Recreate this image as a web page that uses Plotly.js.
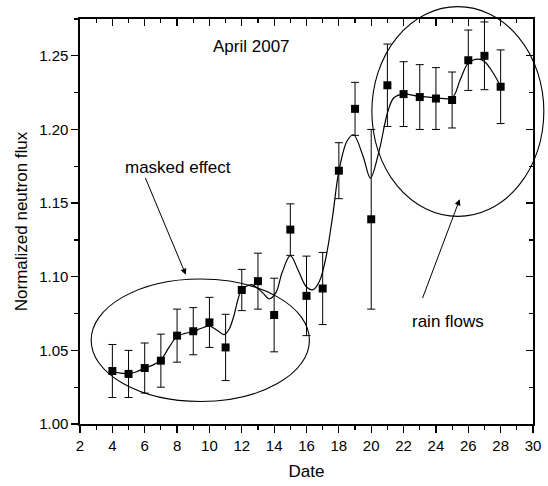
<!DOCTYPE html>
<html>
<head>
<meta charset="utf-8">
<script src="https://cdn.plot.ly/plotly-3.0.1.min.js"></script>
<style>html,body{margin:0;padding:0;background:#fff;}#chart{width:548px;height:486px;}</style>
</head>
<body>
<div id="chart"></div>
<script>
// Measured data (April 2007)
var dates = [4,5,6,7,8,9,10,11,12,13,14,15,16,17,18,19,20,21,22,23,24,25,26,27,28];
var flux = [1.036,1.034,1.038,1.043,1.060,1.063,1.069,1.052,1.091,1.097,1.074,1.132,1.087,1.092,1.172,1.214,1.139,1.230,1.224,1.222,1.221,1.220,1.247,1.250,1.229];
var fluxErr = [0.018,0.016,0.017,0.018,0.018,0.016,0.017,0.0225,0.014,0.019,0.025,0.0175,0.027,0.0245,0.019,0.018,0.061,0.028,0.022,0.022,0.021,0.019,0.0205,0.023,0.025];

// Smooth curve
var curveX = [4,4.5,5,5.5,6,6.5,7,7.5,8,8.5,9,9.5,10,10.5,10.9,11.2,11.5,11.8,12,12.6,13,13.3,13.7,14.1,14.5,15,15.5,16,16.4,16.8,17.2,17.6,18,18.5,18.9,19.5,19.95,20.5,21,21.4,22,23,24,25,25.5,26,26.6,27,27.5,28];
var curveY = [1.036,1.0345,1.0343,1.0355,1.038,1.040,1.0435,1.052,1.0595,1.0615,1.0628,1.065,1.0665,1.0635,1.0607,1.064,1.073,1.086,1.0912,1.0946,1.092,1.089,1.085,1.089,1.103,1.1143,1.104,1.093,1.0912,1.097,1.113,1.140,1.1715,1.192,1.1964,1.1817,1.167,1.186,1.211,1.2215,1.224,1.2224,1.2215,1.2215,1.2337,1.245,1.2478,1.2462,1.239,1.2292];

var xRange = [2,30];
var yRange = [1.00,1.275];
var xTicks = [2,4,6,8,10,12,14,16,18,20,22,24,26,28,30];
var yTicks = [1.00,1.05,1.10,1.15,1.20,1.25];

var FONT = "Liberation Sans, Arial, sans-serif";

var traces = [
  {
    x: curveX, y: curveY, type: 'scatter', mode: 'lines',
    line: {color: '#000', width: 1.2, shape: 'spline', smoothing: 1.0},
    hoverinfo: 'skip', showlegend: false
  },
  {
    x: dates, y: flux, type: 'scatter', mode: 'markers',
    marker: {symbol: 'square', size: 8, color: '#000', line: {width: 0}},
    error_y: {type: 'data', array: fluxErr, visible: true, color: '#000', thickness: 1, width: 4},
    showlegend: false
  },
  {
    x: [null], y: [null], xaxis: 'x2', yaxis: 'y2', type: 'scatter', mode: 'markers',
    hoverinfo: 'skip', showlegend: false
  }
];

var axisCommon = {
  showgrid: false, zeroline: false, showline: true, linecolor: '#000', linewidth: 1.6,
  tickcolor: '#000', tickwidth: 1.2, ticklen: 7
};

// convert data coordinates to paper (for shapes that leave the plot area)
function px(d){ return (d - xRange[0]) / (xRange[1] - xRange[0]); }
function py(v){ return (v - yRange[0]) / (yRange[1] - yRange[0]); }

var layout = {
  width: 548, height: 486,
  margin: {l: 80, r: 15, t: 19, b: 62, pad: 0},
  paper_bgcolor: '#fff', plot_bgcolor: '#fff',
  font: {family: FONT, color: '#000', size: 15},
  xaxis: Object.assign({}, axisCommon, {
    range: xRange, tickvals: xTicks, ticktext: xTicks.map(String), ticks: 'outside',
    minor: {dtick: 1, tick0: 2, ticks: 'outside', ticklen: 4, tickcolor: '#000', tickwidth: 1.2},
    tickfont: {family: FONT, size: 15, color: '#000'},
    title: {text: 'Date', font: {family: FONT, size: 17, color: '#000'}, standoff: 12}
  }),
  yaxis: Object.assign({}, axisCommon, {
    range: yRange, tickvals: yTicks, ticktext: yTicks.map(function(v){return v.toFixed(2);}), ticks: 'outside',
    minor: {dtick: 0.025, tick0: 1.0, ticks: 'outside', ticklen: 4, tickcolor: '#000', tickwidth: 1.2},
    tickfont: {family: FONT, size: 15, color: '#000'},
    title: {text: 'Normalized neutron flux', font: {family: FONT, size: 17, color: '#000'}, standoff: 7}
  }),
  xaxis2: Object.assign({}, axisCommon, {
    overlaying: 'x', side: 'top', anchor: 'y2', range: xRange, tickvals: xTicks, ticks: 'inside',
    showticklabels: false,
    minor: {dtick: 1, tick0: 2, ticks: 'inside', ticklen: 4, tickcolor: '#000', tickwidth: 1.2}
  }),
  yaxis2: Object.assign({}, axisCommon, {
    overlaying: 'y', side: 'right', anchor: 'x2', range: yRange, tickvals: yTicks, ticks: 'inside',
    showticklabels: false,
    minor: {dtick: 0.025, tick0: 1.0, ticks: 'inside', ticklen: 4, tickcolor: '#000', tickwidth: 1.2}
  }),
  shapes: [
    {type: 'circle', xref: 'paper', yref: 'paper',
     x0: px(2.69), x1: px(16.18), y0: py(1.0153), y1: py(1.0985),
     line: {color: '#000', width: 1.1}},
    {type: 'circle', xref: 'paper', yref: 'paper',
     x0: px(20.04), x1: px(30.67), y0: py(1.141), y1: py(1.2834),
     line: {color: '#000', width: 1.1}}
  ],
  annotations: [
    {x: 12.63, y: 1.2563, xref: 'x', yref: 'y', text: 'April 2007', showarrow: false,
     font: {family: FONT, size: 17, color: '#000'}},
    {x: 8.07, y: 1.1744, xref: 'x', yref: 'y', text: 'masked effect', showarrow: false,
     font: {family: FONT, size: 17, color: '#000'}},
    {x: 24.77, y: 1.0697, xref: 'x', yref: 'y', text: 'rain flows', showarrow: false,
     font: {family: FONT, size: 17, color: '#000'}},
    {x: 8.54, y: 1.1014, xref: 'x', yref: 'y', axref: 'x', ayref: 'y', ax: 6.0, ay: 1.1681,
     text: '', showarrow: true, arrowhead: 2, arrowsize: 1.2, arrowwidth: 1, arrowcolor: '#000'},
    {x: 25.47, y: 1.1526, xref: 'x', yref: 'y', axref: 'x', ayref: 'y', ax: 23.14, ay: 1.0845,
     text: '', showarrow: true, arrowhead: 2, arrowsize: 1.2, arrowwidth: 1, arrowcolor: '#000'}
  ]
};

Plotly.newPlot('chart', traces, layout, {staticPlot: true, displayModeBar: false});
</script>
</body>
</html>
